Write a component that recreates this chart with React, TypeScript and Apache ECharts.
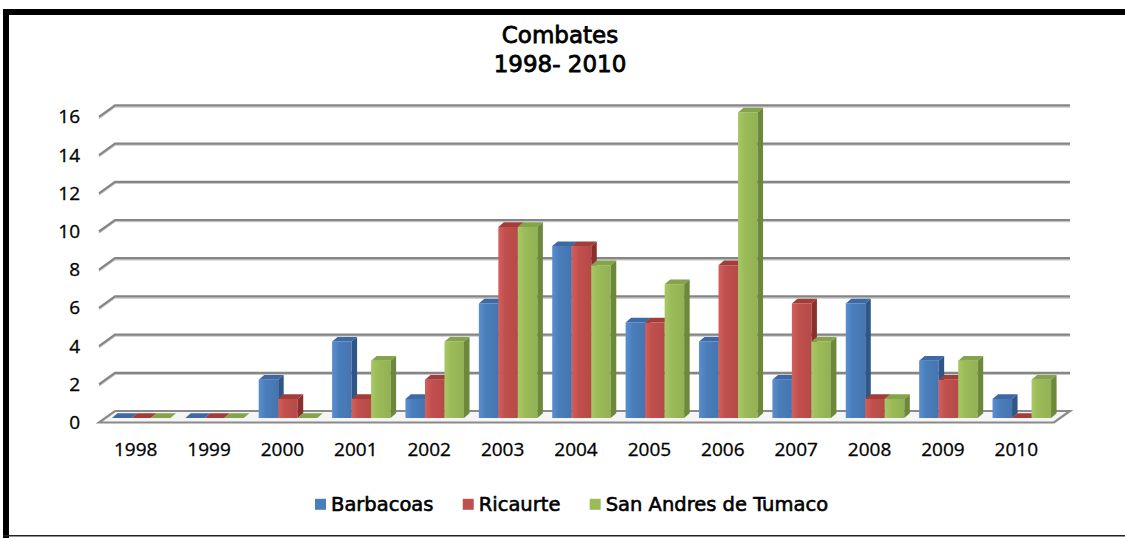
import React, { useEffect, useRef } from "react";
import * as echarts from "echarts";

// Years on the category axis
const categories = ["1998", "1999", "2000", "2001", "2002", "2003", "2004", "2005", "2006", "2007", "2008", "2009", "2010"];

// Combat counts per municipality
const barbacoas = [0, 0, 2, 4, 1, 6, 9, 5, 4, 2, 6, 3, 1];
const ricaurte = [0, 0, 1, 1, 2, 10, 9, 5, 8, 6, 1, 2, 0];
const tumaco = [0, 0, 0, 3, 4, 10, 8, 7, 16, 4, 1, 3, 2];

const seriesNames = ["Barbacoas", "Ricaurte", "San Andres de Tumaco"];

// Value-axis ticks (gridlines on the back wall)
const yTicks = [0, 2, 4, 6, 8, 10, 12, 14, 16];

// Face colours for the pseudo-3D columns: front (light, base, dark), top, side
const palettes = [
  { light: "#5a8fcf", base: "#4a7ebb", dark: "#4475b0", top: "#3d6aa6", side: "#2f5689" },
  { light: "#d45e5a", base: "#c0504d", dark: "#b64a47", top: "#a23d3a", side: "#8b2f2d" },
  { light: "#a8c865", base: "#9bbb59", dark: "#92b153", top: "#85a34a", side: "#6c883a" },
];

// Perspective offsets
const BAR_DX = 5.5;
const BAR_DY = 4.7;
const WALL_DX = 16;
const WALL_DY = 11.5;
const BAR_RATIO = 0.266;

const barRenderer = (idx: number) => (params: any, api: any) => {
  const cat = api.value(0);
  const v = api.value(1);
  const base = api.coord([cat, 0]);
  const top = api.coord([cat, v]);
  const band = api.size([1, 0])[0];
  const w = band * BAR_RATIO;
  const x = base[0] - 1.5 * w + idx * w;
  const yb = base[1];
  const yt = top[1];
  const p = palettes[idx];
  return {
    type: "group",
    children: [
      {
        type: "rect",
        shape: { x, y: yt, width: w, height: yb - yt },
        style: {
          fill: {
            type: "linear",
            x: 0,
            y: 0,
            x2: 1,
            y2: 0,
            colorStops: [
              { offset: 0, color: p.light },
              { offset: 0.35, color: p.base },
              { offset: 1, color: p.dark },
            ],
          },
        },
      },
      {
        type: "polygon",
        shape: {
          points: [
            [x, yt],
            [x + BAR_DX, yt - BAR_DY],
            [x + w + BAR_DX, yt - BAR_DY],
            [x + w, yt],
          ],
        },
        style: { fill: p.top },
      },
      {
        type: "polygon",
        shape: {
          points: [
            [x + w, yt],
            [x + w + BAR_DX, yt - BAR_DY],
            [x + w + BAR_DX, yb - BAR_DY],
            [x + w, yb],
          ],
        },
        style: { fill: p.side },
      },
    ],
  };
};

const wallRenderer = (params: any, api: any) => {
  const v = api.value(1);
  const cs = params.coordSys;
  const y = api.coord([0, v])[1];
  const x0 = cs.x;
  const x1 = cs.x + cs.width;
  if (v === 0) {
    return {
      type: "polygon",
      shape: {
        points: [
          [x0 - WALL_DX, y + WALL_DY],
          [x0, y],
          [x1, y],
          [x1 - WALL_DX, y + WALL_DY],
        ],
      },
      style: { fill: "#f5f5f5", stroke: "#8a8a8a", lineWidth: 2.2 },
    };
  }
  return {
    type: "group",
    children: [
      {
        type: "polyline",
        shape: {
          points: [
            [x0 - WALL_DX, y + WALL_DY + 1.5],
            [x0, y + 1.5],
            [x1, y + 1.5],
          ],
        },
        style: { fill: "none", stroke: "#c8c8c8", lineWidth: 1.5 },
      },
      {
        type: "polyline",
        shape: {
          points: [
            [x0 - WALL_DX, y + WALL_DY],
            [x0, y],
            [x1, y],
          ],
        },
        style: { fill: "none", stroke: "#858585", lineWidth: 2.2 },
      },
    ],
  };
};

const axisText = {
  fontFamily: "Open Sans",
  fontSize: 19,
  color: "#000",
  textBorderColor: "#000",
  textBorderWidth: 0.3,
};

const valueAxis = (gridIndex: number, show: boolean) => ({
  gridIndex,
  type: "value",
  min: 0,
  max: 16,
  interval: 2,
  show,
  axisLine: { show: false },
  axisTick: { show: false },
  splitLine: { show: false },
  axisLabel: { margin: 19, ...axisText },
});

export default function App() {
  const ref = useRef<HTMLDivElement>(null);

  useEffect(() => {
    if (!ref.current) return;
    const chart = echarts.init(ref.current, null, { renderer: "svg" });
    const values = [barbacoas, ricaurte, tumaco];
    chart.setOption({
      animation: false,
      backgroundColor: "#ffffff",
      title: {
        text: "Combates\n1998- 2010",
        left: 560,
        top: 20,
        textAlign: "center",
        padding: 0,
        textStyle: {
          fontFamily: "DejaVu Sans",
          fontWeight: "normal",
          fontSize: 23,
          lineHeight: 29.5,
          color: "#000",
          textBorderColor: "#000",
          textBorderWidth: 0.8,
        },
      },
      legend: {
        data: seriesNames,
        left: 315,
        top: 494,
        padding: 0,
        icon: "rect",
        itemWidth: 11,
        itemHeight: 11,
        itemGap: 29,
        textStyle: {
          fontFamily: "DejaVu Sans",
          fontSize: 19.5,
          color: "#000",
          textBorderColor: "#000",
          textBorderWidth: 0.6,
        },
      },
      grid: [
        // front plane: axis labels
        { left: 99, top: 116.4, width: 954, height: 305.6 },
        // column plane
        { left: 104.5, top: 112.4, width: 954, height: 305.6 },
        // back wall
        { left: 115, top: 105.4, width: 955, height: 305.6 },
      ],
      xAxis: [
        {
          gridIndex: 0,
          type: "category",
          data: categories,
          axisLine: { show: false },
          axisTick: { show: false },
          axisLabel: { margin: 17, ...axisText },
        },
        { gridIndex: 1, type: "category", data: categories, show: false },
        { gridIndex: 2, type: "category", data: categories, show: false },
      ],
      yAxis: [valueAxis(0, true), valueAxis(1, false), valueAxis(2, false)],
      graphic: [
        { type: "rect", shape: { x: 3, y: 9, width: 1122, height: 6 }, style: { fill: "#000" } },
        { type: "rect", shape: { x: 3, y: 9, width: 6, height: 529 }, style: { fill: "#000" } },
        { type: "rect", shape: { x: 3, y: 535, width: 1122, height: 1.5 }, style: { fill: "#222" } },
      ],
      series: [
        {
          type: "custom",
          name: "wall",
          xAxisIndex: 2,
          yAxisIndex: 2,
          z: 1,
          silent: true,
          clip: false,
          data: yTicks.map((v) => [0, v]),
          encode: { x: 0, y: 1 },
          renderItem: wallRenderer,
        },
        ...seriesNames.map((name, idx) => ({
          type: "custom",
          name,
          xAxisIndex: 1,
          yAxisIndex: 1,
          z: 3,
          clip: false,
          itemStyle: { color: palettes[idx].base },
          data: values[idx].map((v, i) => [i, v]),
          encode: { x: 0, y: 1 },
          renderItem: barRenderer(idx),
        })),
      ],
    });
    return () => chart.dispose();
  }, []);

  return (
    <div
      ref={ref}
      style={{ position: "fixed", left: 0, top: 0, width: 1125, height: 538 }}
    />
  );
}
